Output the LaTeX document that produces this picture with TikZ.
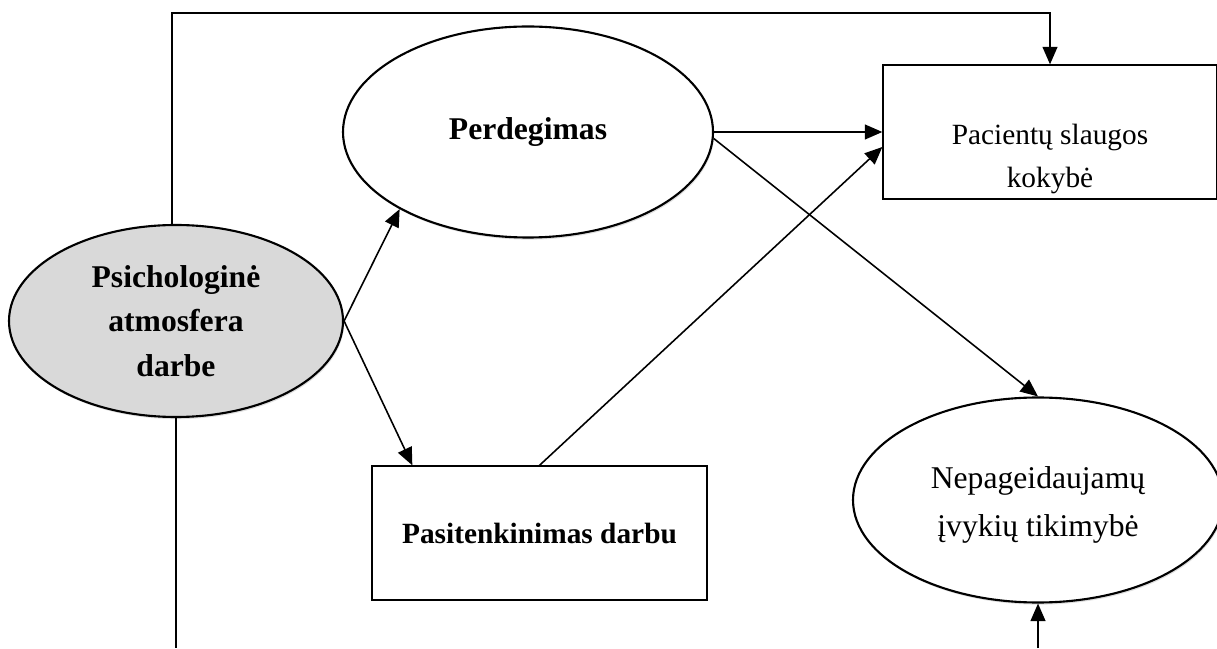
\documentclass[tikz,border=0pt]{standalone}
\usepackage{fontspec}
\setmainfont{Liberation Serif}
\usetikzlibrary{arrows.meta,shapes.geometric,shadows}
\definecolor{atmgray}{HTML}{D9D9D9}

\tikzset{
	oval/.style={ellipse,draw,line width=1.2pt,inner sep=0pt,align=center,
		drop shadow={shadow xshift=0.6pt,shadow yshift=-1.2pt,opacity=0.25,fill=gray}},
	box/.style={rectangle,draw,line width=0.75pt,inner sep=0pt,align=center},
	arr/.style={-{Triangle[length=10pt,width=8.5pt]},line width=0.9pt},
	big/.style={font=\fontsize{18}{25.5}\selectfont},
	mid/.style={font=\fontsize{16.7}{24}\selectfont,align=center}
}

\begin{document}
\begin{tikzpicture}
			\useasboundingbox (0,0) rectangle (24.34,12.96);
			\coordinate (bot) at (0,0);
			\coordinate (rail) at (10,12.70);
			% ovalai
			\node[oval,big,fill=atmgray,minimum width=6.68cm,minimum height=3.84cm] (psych) at (3.52,6.54) {\textbf{Psichologinė}\\\textbf{atmosfera}\\\textbf{darbe}};
			\node[oval,big,fill=white,minimum width=7.4cm,minimum height=4.22cm] (perd) at (10.56,10.32) {\textbf{Perdegimas}};
			\node[oval,fill=white,minimum width=7.4cm,minimum height=4.1cm] (nep) at (20.76,2.96) {};
			\node[font=\fontsize{18}{27}\selectfont,align=center] (nep-t) at ([yshift=-0.1cm]nep.center) {Nepageidaujamų\\įvykių tikimybė};
			% staciakampiai
			\node[box,minimum width=6.68cm,minimum height=2.68cm] (pac) at (21.0,10.32) {};
			\node[mid] (pac-t) at ([yshift=-0.54cm]pac.center) {Pacientų slaugos\\kokybė};
			\node[box,mid,minimum width=6.7cm,minimum height=2.68cm] (pas) at (10.79,2.30) {\textbf{Pasitenkinimas darbu}};
			% rodykles
			\draw[arr] ([xshift=-0.08cm]psych.north) |- (rail) -| (pac.north);
			\draw[line width=0.9pt] (psych.south) -- (psych.south |- bot);
			\draw[arr] (psych.east) -- (perd.211);
			\draw[arr] (psych.east) -- ([xshift=0.82cm]pas.north west);
			\draw[arr] (pas.north) -- ([yshift=-0.3cm]pac.west);
			\draw[arr] (perd.east) -- (pac.west);
			\draw[arr] (perd.358) -- (nep.north);
			\draw[arr] (nep.south |- bot) -- (nep.south);
		\end{tikzpicture}
\end{document}
